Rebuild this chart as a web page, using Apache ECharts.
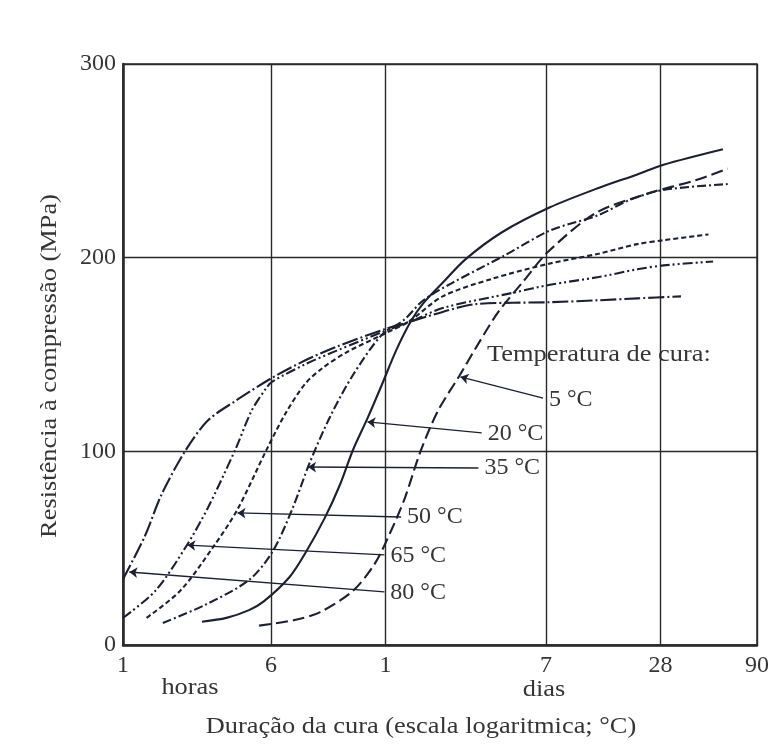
<!DOCTYPE html>
<html>
<head>
<meta charset="utf-8">
<script src="https://cdn.jsdelivr.net/npm/echarts@6/dist/echarts.min.js"></script>
<style>
  html, body { margin: 0; padding: 0; background: #ffffff; }
  #chart { width: 772px; height: 752px; }
</style>
</head>
<body>
<div id="chart"></div>
<script>
// Compressive strength (MPa) against curing time (hours, log scale)
// for six curing temperatures.

const hours80 = [1, 1.3, 1.6, 2.15, 2.8, 3.9, 6.1, 9.1, 13.3, 23.7, 32.6, 48, 71, 176, 317, 507, 860];
const mpa80   = [34, 56, 78, 101, 116, 126, 138, 147, 154, 163, 167, 172, 176, 177, 178, 179, 180];

const hours65 = [1, 1.48, 2.15, 2.8, 3.9, 4.75, 5.7, 6.1, 9.1, 13.3, 23.7, 32.6, 48, 114, 176, 317, 507, 696, 1270];
const mpa65   = [14, 28, 51, 71, 101, 121, 133, 136, 145, 152, 162, 167, 174, 182, 186, 190, 194, 196, 198];

const hours50 = [1.33, 2.0, 3.0, 4.0, 5.7, 7.2, 9.1, 11.2, 14.9, 22.9, 31.8, 48, 86.7, 176, 317, 507, 696, 1200];
const mpa50   = [14, 28, 51, 70, 101, 120, 135, 143, 151, 160, 167, 180, 189, 197, 202, 207, 209, 212];

const hours35 = [1.62, 2.7, 4.6, 6.1, 7.73, 9.63, 12.3, 16.2, 22.9, 30, 38, 54, 101, 176, 317, 467, 696, 1515];
const mpa35   = [11.4, 20.7, 33.6, 48, 69.7, 94.5, 118, 139.4, 160, 167.8, 178, 187, 201, 214, 222, 230, 235, 238];

const hours20 = [2.6, 3.5, 4.6, 5.5, 7.5, 9.1, 11.5, 13.8, 16.2, 19.3, 22.9, 27.3, 32.6, 38, 48, 63, 98, 176, 317, 507, 696, 1430];
const mpa20   = [12, 14, 18, 22.5, 35, 47.5, 65.5, 82.5, 100.7, 117, 134, 152, 167, 176.5, 187, 199, 213, 226, 236, 243, 248, 256];

const hours5  = [5.2, 8.1, 10.9, 16.2, 21.1, 25.7, 30.4, 36.7, 45.4, 58.8, 74.4, 94.2, 128, 172, 306, 570, 1027, 1515];
const mpa5    = [10, 13, 17, 28, 42, 59, 76, 100, 121, 139, 156, 172, 188, 203, 223, 233, 240, 246];

// Axis ticks: 1 h, 6 h, 1 day, 7, 28, 90 days (in hours)
const tickHours  = [1, 6, 24, 168, 672, 2160];
const tickLabels = ['1', '6', '1', '7', '28', '90'];
const strengthTicks = [0, 100, 200, 300];

// Leader lines: point on the curve -> label anchor, [hours, MPa]
const tempLabels = ['80 °C', '65 °C', '50 °C', '35 °C', '20 °C', '5 °C'];
const leaderFrom = [[1.08, 37.7], [2.18, 51.6], [4.0, 68.2], [9.4, 91.9], [19.3, 115.2], [59.5, 138.4]];
const leaderTo   = [[23.7, 27.4], [23.7, 46.5], [29, 66.1], [74, 91.4], [77, 109.5], [162, 127.5]];

const ink = '#1d2030';
const gridInk = '#2a2a2a';
const textColor = '#353535';
const serif = '"Liberation Serif", "Times New Roman", serif';

const dashes = [
  [16, 3, 2, 3],          // 80 °C
  [10, 3, 2, 3, 2, 3],    // 65 °C
  [5, 3],                 // 50 °C
  [9, 3, 2, 3],           // 35 °C
  'solid',                // 20 °C
  [12, 5]                 // 5 °C
];

const curves = [
  [hours80, mpa80], [hours65, mpa65], [hours50, mpa50],
  [hours35, mpa35], [hours20, mpa20], [hours5, mpa5]
];

const series = curves.map(([hrs, mpa], i) => ({
  type: 'line',
  name: tempLabels[i],
  data: hrs.map((h, k) => [h, mpa[k]]),
  showSymbol: false,
  smooth: 0.3,
  lineStyle: { color: ink, width: 2.1, type: dashes[i] },
  z: 3,
  markLine: {
    silent: true,
    symbol: ['arrow', 'none'],
    symbolSize: 8,
    lineStyle: { color: ink, width: 1.3, type: 'solid' },
    label: {
      show: true, position: 'end', distance: 6,
      formatter: tempLabels[i],
      fontFamily: serif, fontSize: 24, color: textColor
    },
    data: [[{ coord: leaderFrom[i] }, { coord: leaderTo[i] }]]
  }
}));

function tickText(v) {
  const i = tickHours.findIndex(h => Math.abs(h - v) / h < 1e-3);
  return i >= 0 ? tickLabels[i] : '';
}

function caption(text, x, y, align, rotation) {
  return {
    type: 'text', x: x, y: y, rotation: rotation || 0, scaleX: 1.1,
    style: { text: text, fontFamily: serif, fontSize: 24, fill: textColor,
             align: align, verticalAlign: 'middle' }
  };
}

const chart = echarts.init(document.getElementById('chart'), null, { renderer: 'canvas' });
chart.setOption({
  animation: false,
  backgroundColor: '#ffffff',
  grid: {
    left: 123, right: 9, top: 64, bottom: 107,
    show: true, borderColor: gridInk, borderWidth: 1.5, backgroundColor: 'transparent'
  },
  xAxis: {
    type: 'log', logBase: 10, min: 1, max: 2160,
    axisLine: { show: true, lineStyle: { color: gridInk, width: 2.5 } },
    axisTick: { show: false, customValues: tickHours },
    minorTick: { show: false },
    axisLabel: {
      customValues: tickHours, formatter: tickText, margin: 9,
      fontFamily: serif, fontSize: 24, color: textColor
    },
    splitLine: { show: true, lineStyle: { color: gridInk, width: 1.4 } }
  },
  yAxis: {
    type: 'value', min: 0, max: 300, interval: 100,
    axisLine: { show: true, lineStyle: { color: gridInk, width: 2.5 } },
    axisTick: { show: false },
    axisLabel: {
      customValues: strengthTicks, margin: 7,
      fontFamily: serif, fontSize: 24, color: textColor
    },
    splitLine: { show: true, lineStyle: { color: gridInk, width: 1.4 } }
  },
  graphic: [
    caption('Resistência à compressão (MPa)', 50, 366, 'center', Math.PI / 2),
    caption('Duração da cura (escala logaritmica; °C)', 421, 727, 'center'),
    caption('horas', 190, 688, 'center'),
    caption('dias', 544, 690, 'center'),
    caption('Temperatura de cura:', 487, 355, 'left')
  ],
  series: series
});
</script>
</body>
</html>
